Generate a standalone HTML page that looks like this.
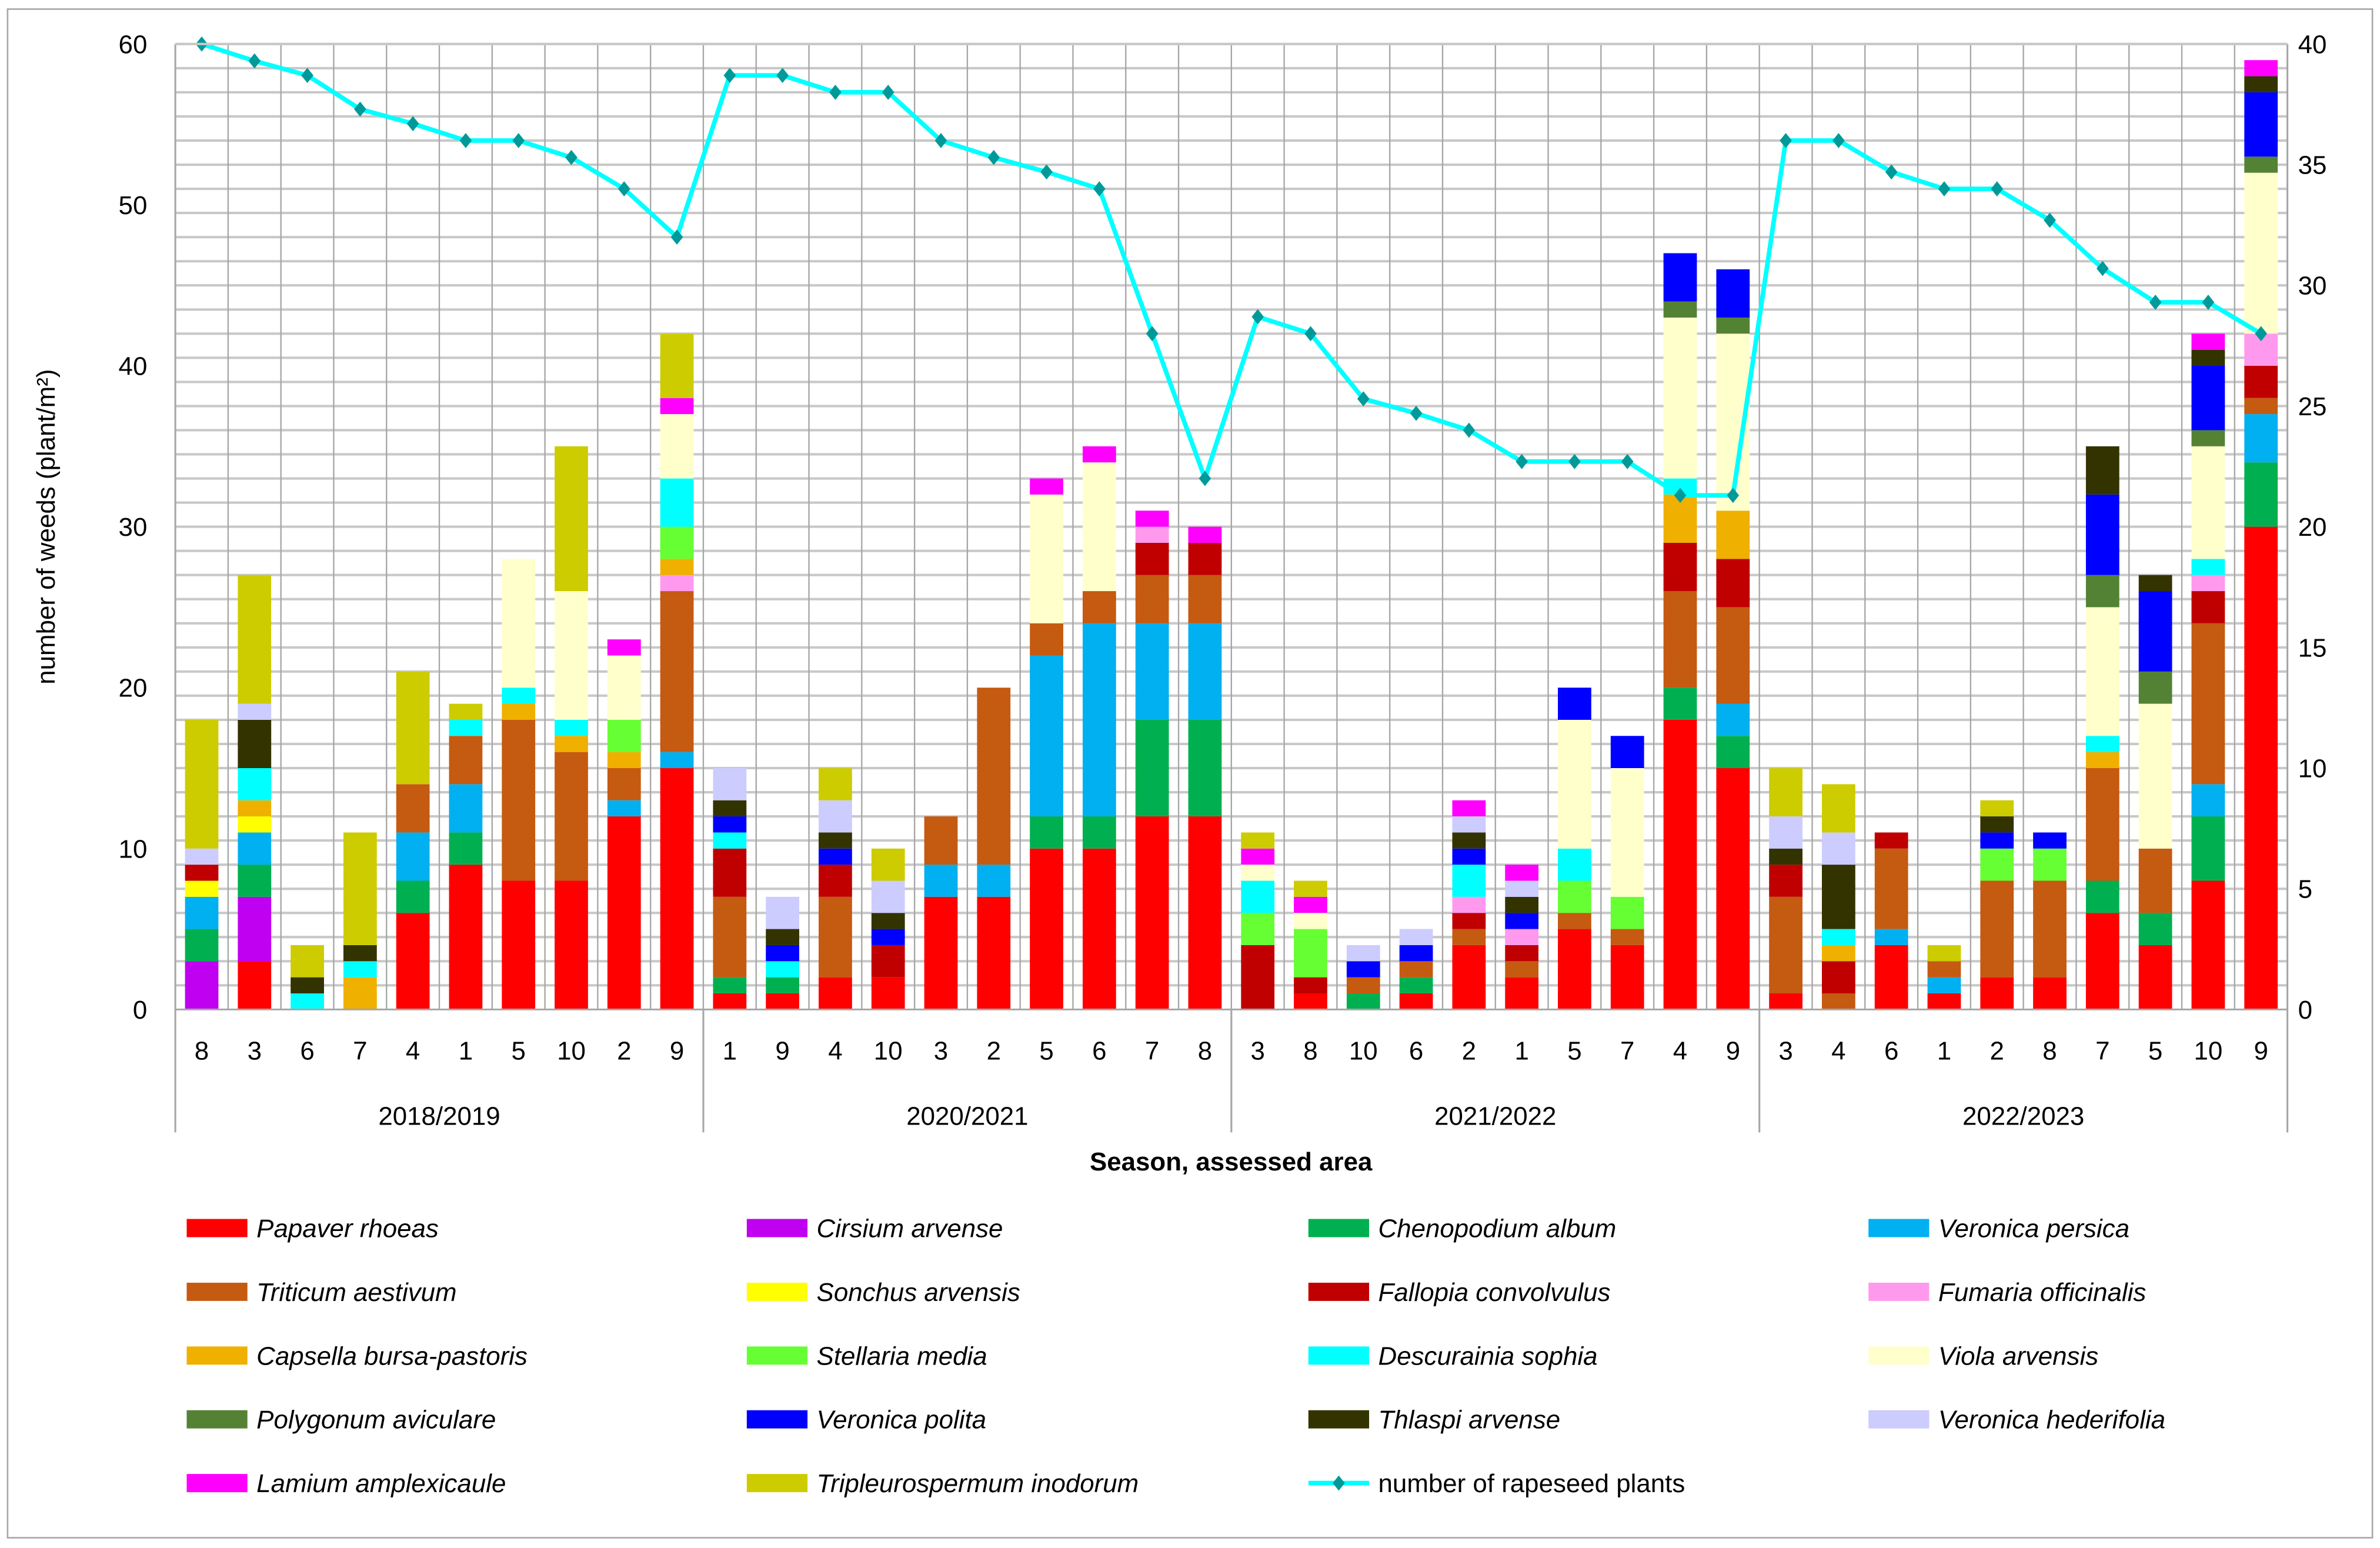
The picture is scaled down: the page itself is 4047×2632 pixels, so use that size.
<!DOCTYPE html>
<html><head><meta charset="utf-8"><style>
html,body{margin:0;padding:0;background:#fff}
svg{display:block}
text{font-family:"Liberation Sans",sans-serif;fill:#000}
</style></head><body>
<svg id="chart" width="4047" height="2632" viewBox="0 0 1568 1019.76" preserveAspectRatio="none" xmlns="http://www.w3.org/2000/svg">
<rect x="5" y="6" width="1558" height="1007" fill="#fff" stroke="#a6a6a6" stroke-width="1"/>
<g id="grid"></g>
<g id="bars"></g>
<g id="line"></g>
<g id="axes"></g>
<g id="legend"></g>
</svg>
<script>
const areas=["8","3","6","7","4","1","5","10","2","9","1","9","4","10","3","2","5","6","7","8","3","8","10","6","2","1","5","7","4","9","3","4","6","1","2","8","7","5","10","9"];
const seasons=["2018/2019","2020/2021","2021/2022","2022/2023"];
const speciesNames=["Papaver rhoeas","Cirsium arvense","Chenopodium album","Veronica persica","Triticum aestivum","Sonchus arvensis","Fallopia convolvulus","Fumaria officinalis","Capsella bursa-pastoris","Stellaria media","Descurainia sophia","Viola arvensis","Polygonum aviculare","Veronica polita","Thlaspi arvense","Veronica hederifolia","Lamium amplexicaule","Tripleurospermum inodorum"];
const speciesColors=["#ff0000","#c000f0","#00b050","#00b0f0","#c55a11","#ffff00","#c00000","#ff99ee","#f0b000","#66ff33","#00ffff","#ffffcc","#548235","#0000ff","#333300","#ccccff","#ff00ff","#cccc00"];
const papaver=[0,3,0,0,6,9,8,8,12,15, 1,1,2,2,7,7,10,10,12,12, 0,1,0,1,4,2,5,4,18,15, 1,0,4,1,2,2,6,4,8,30];
const cirsium=[3,4,0,0,0,0,0,0,0,0, 0,0,0,0,0,0,0,0,0,0, 0,0,0,0,0,0,0,0,0,0, 0,0,0,0,0,0,0,0,0,0];
const chenopodium=[2,2,0,0,2,2,0,0,0,0, 1,1,0,0,0,0,2,2,6,6, 0,0,1,1,0,0,0,0,2,2, 0,0,0,0,0,0,2,2,4,4];
const vPersica=[2,2,0,0,3,3,0,0,1,1, 0,0,0,0,2,2,10,12,6,6, 0,0,0,0,0,0,0,0,0,2, 0,0,1,1,0,0,0,0,2,3];
const triticum=[0,0,0,0,3,3,10,8,2,10, 5,0,5,0,3,11,2,2,3,3, 0,0,1,1,1,1,1,1,6,6, 6,1,5,1,6,6,7,4,10,1];
const sonchus=[1,1,0,0,0,0,0,0,0,0, 0,0,0,0,0,0,0,0,0,0, 0,0,0,0,0,0,0,0,0,0, 0,0,0,0,0,0,0,0,0,0];
const fallopia=[1,0,0,0,0,0,0,0,0,0, 3,0,2,2,0,0,0,0,2,2, 4,1,0,0,1,1,0,0,3,3, 2,2,1,0,0,0,0,0,2,2];
const fumaria=[0,0,0,0,0,0,0,0,0,1, 0,0,0,0,0,0,0,0,1,0, 0,0,0,0,1,1,0,0,0,0, 0,0,0,0,0,0,0,0,1,2];
const capsella=[0,1,0,2,0,0,1,1,1,1, 0,0,0,0,0,0,0,0,0,0, 0,0,0,0,0,0,0,0,3,3, 0,1,0,0,0,0,1,0,0,0];
const stellaria=[0,0,0,0,0,0,0,0,2,2, 0,0,0,0,0,0,0,0,0,0, 2,3,0,0,0,0,2,2,0,0, 0,0,0,0,2,2,0,0,0,0];
const descurainia=[0,2,1,1,0,1,1,1,0,3, 1,1,0,0,0,0,0,0,0,0, 2,0,0,0,2,0,2,0,1,0, 0,1,0,0,0,0,1,0,1,0];
const viola=[0,0,0,0,0,0,8,8,4,4, 0,0,0,0,0,0,8,8,0,0, 1,1,0,0,0,0,8,8,10,11, 0,0,0,0,0,0,8,9,7,10];
const polygonum=[0,0,0,0,0,0,0,0,0,0, 0,0,0,0,0,0,0,0,0,0, 0,0,0,0,0,0,0,0,1,1, 0,0,0,0,0,0,2,2,1,1];
const vPolita=[0,0,0,0,0,0,0,0,0,0, 1,1,1,1,0,0,0,0,0,0, 0,0,1,1,1,1,2,2,3,3, 0,0,0,0,1,1,5,5,4,4];
const thlaspi=[0,3,1,1,0,0,0,0,0,0, 1,1,1,1,0,0,0,0,0,0, 0,0,0,0,1,1,0,0,0,0, 1,4,0,0,1,0,3,1,1,1];
const vHederifolia=[1,1,0,0,0,0,0,0,0,0, 2,2,2,2,0,0,0,0,0,0, 0,0,1,1,1,1,0,0,0,0, 2,2,0,0,0,0,0,0,0,0];
const lamium=[0,0,0,0,0,0,0,0,1,1, 0,0,0,0,0,0,1,1,1,1, 1,1,0,0,1,1,0,0,0,0, 0,0,0,0,0,0,0,0,1,1];
const tripleuro=[8,8,2,7,7,1,0,9,0,4, 0,0,2,2,0,0,0,0,0,0, 1,1,0,0,0,0,0,0,0,0, 3,3,0,1,1,0,0,0,0,0];
const rapeseed=[40,39.3,38.7,37.3,36.7,36,36,35.3,34,32, 38.7,38.7,38,38,36,35.3,34.7,34,28,22, 28.7,28,25.3,24.7,24,22.7,22.7,22.7,21.3,21.3, 36,36,34.7,34,34,32.7,30.7,29.3,29.3,28];
const leftTicks=[0,10,20,30,40,50,60];
const rightTicks=[0,5,10,15,20,25,30,35,40];
const speciesData=[papaver,cirsium,chenopodium,vPersica,triticum,sonchus,fallopia,fumaria,capsella,stellaria,descurainia,viola,polygonum,vPolita,thlaspi,vHederifolia,lamium,tripleuro];

const NS="http://www.w3.org/2000/svg";
const X0=115.5,X1=1507,Y0=665,Y1=29;
const n=areas.length, cw=(X1-X0)/n;
const yL=v=>Y0-(v/60)*(Y0-Y1);
const yR=v=>Y0-(v/40)*(Y0-Y1);
const xc=i=>X0+cw*(i+0.5);
function mk(tag,attrs,parent,txt){const e=document.createElementNS(NS,tag);for(const k in attrs)e.setAttribute(k,attrs[k]);if(txt!==undefined)e.textContent=txt;parent.appendChild(e);return e;}
const G=id=>document.getElementById(id);

// grid
const grid=G('grid');
for(let v=1;v<=40;v++){const l=mk('line',{x1:X0,x2:X1,y1:yR(v),y2:yR(v),stroke:'#c8c8c8','stroke-width':1.6},grid);

}
for(let i=1;i<n;i++){const l=mk('line',{x1:X0+cw*i,x2:X0+cw*i,y1:Y1,y2:Y0,stroke:'#a6a6a6','stroke-width':0.9},grid);

}

// bars
const bars=G('bars');
for(let i=0;i<n;i++){let acc=0;
 for(let s=0;s<speciesData.length;s++){const v=speciesData[s][i];if(!v)continue;
  const r=mk('rect',{x:xc(i)-11,width:22,y:yL(acc+v),height:yL(acc)-yL(acc+v),fill:speciesColors[s]},bars);
  
  
  acc+=v;}}

// line
const lg=G('line');
const pts=rapeseed.map((v,i)=>xc(i)+','+yR(v)).join(' ');
const pl=mk('polyline',{points:pts,fill:'none',stroke:'#00ffff','stroke-width':3},lg);


rapeseed.forEach((v,i)=>{const x=xc(i),y=yR(v);
 const d=mk('polygon',{points:`${x},${y-5} ${x+4},${y} ${x},${y+5} ${x-4},${y}`,fill:'#009999'},lg);
 
 });

// axes
const ax=G('axes');
mk('line',{x1:X0,x2:X1,y1:Y0,y2:Y0,stroke:'#a6a6a6','stroke-width':1.2},ax);
mk('line',{x1:X0,x2:X0,y1:Y1,y2:Y0,stroke:'#a6a6a6','stroke-width':1.2},ax);
mk('line',{x1:X1,x2:X1,y1:Y1,y2:Y0,stroke:'#a6a6a6','stroke-width':1.2},ax);
mk('line',{x1:X0,x2:X1,y1:Y1,y2:Y1,stroke:'#c8c8c8','stroke-width':1.6},ax);
leftTicks.forEach(v=>{const t=mk('text',{x:97,y:yL(v)+6,'text-anchor':'end','font-size':17},ax,String(v));
 
 });
rightTicks.forEach(v=>{const t=mk('text',{x:1514,y:yR(v)+6,'text-anchor':'start','font-size':17},ax,String(v));
 
 });
areas.forEach((a,i)=>{const t=mk('text',{x:xc(i),y:698,'text-anchor':'middle','font-size':17},ax,a);
 
 });
for(let g=0;g<=seasons.length;g++){const x=X0+cw*10*g;mk('line',{x1:x,x2:x,y1:Y0,y2:746,stroke:'#a6a6a6','stroke-width':1.2},ax);}
seasons.forEach((s,g)=>{const t=mk('text',{x:X0+cw*(10*g+5),y:741,'text-anchor':'middle','font-size':17},ax,s);
 
 });
const xt=mk('text',{x:811,y:771,'text-anchor':'middle','font-size':17,'font-weight':'bold'},ax,'Season, assessed area');


const yt=mk('text',{x:0,y:0,'text-anchor':'middle','font-size':17,transform:'translate(36,347) rotate(-90)'},ax,'number of weeds (plant/m²)');



// legend
const leg=G('legend');
const colX=[123,492,862,1231], rowY=[809,851,893,935,977];
speciesNames.forEach((nm,k)=>{const c=k%4,r=Math.floor(k/4);
 const g=mk('g',{},leg);
 
 
 mk('rect',{x:colX[c],y:rowY[r]-6,width:40,height:12,fill:speciesColors[k]},g);
 mk('text',{x:colX[c]+46,y:rowY[r]+6,'font-size':17,'font-style':'italic'},g,nm);});
{const c=2,r=4;const g=mk('g',{},leg);
 
 
 mk('line',{x1:colX[c],x2:colX[c]+40,y1:rowY[r],y2:rowY[r],stroke:'#00ffff','stroke-width':3},g);
 const x=colX[c]+20,y=rowY[r];
 mk('polygon',{points:`${x},${y-5} ${x+4},${y} ${x},${y+5} ${x-4},${y}`,fill:'#009999'},g);
 mk('text',{x:colX[c]+46,y:rowY[r]+6,'font-size':17},g,'number of rapeseed plants');}
</script>
</body></html>
